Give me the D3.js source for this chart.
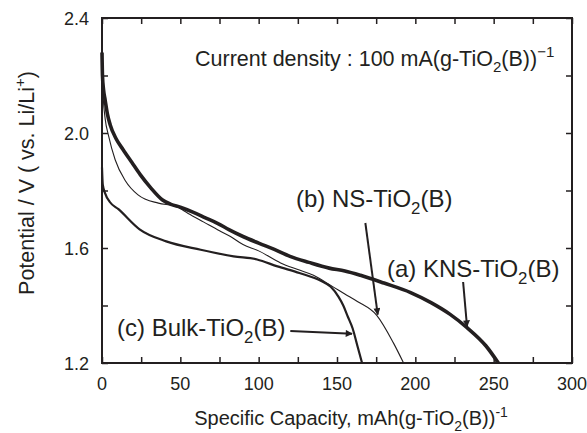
<!DOCTYPE html>
<html>
<head>
<meta charset="utf-8">
<script src="https://cdn.jsdelivr.net/npm/d3@7"></script>
<style>
  html, body { margin: 0; padding: 0; background: #fff; }
  svg text { font-family: "Liberation Sans", Arial, Helvetica, sans-serif; fill: #231f20; }
</style>
</head>
<body>
<svg id="chart" width="587" height="433"></svg>
<script>
// ---- data ----
const capA = [0, 0.3, 1, 2, 3.5, 5.2, 9, 13.5, 19, 24.4, 31, 38.4, 44, 50, 58, 66, 74, 81, 90, 100, 110, 120, 132, 145, 155, 165, 180, 197, 210, 222, 233, 245, 253];
const vA   = [2.28, 2.2, 2.15, 2.115, 2.065, 2.029, 1.98, 1.942, 1.898, 1.855, 1.81, 1.768, 1.752, 1.742, 1.725, 1.705, 1.685, 1.664, 1.64, 1.617, 1.595, 1.571, 1.55, 1.53, 1.52, 1.505, 1.478, 1.445, 1.41, 1.37, 1.323, 1.26, 1.2];

const capB = [0, 0.8, 2, 4.2, 8.4, 14.8, 23, 36, 47, 55, 65, 75, 82, 90, 100, 114, 125, 135, 146, 155, 163, 175.5, 186, 192.5];
const vB   = [2.22, 2.12, 2.05, 1.99, 1.907, 1.835, 1.785, 1.756, 1.745, 1.72, 1.69, 1.66, 1.64, 1.612, 1.59, 1.548, 1.525, 1.505, 1.47, 1.44, 1.414, 1.365, 1.27, 1.2];

const capC = [0, 0.5, 2, 5, 10.5, 24, 41, 63, 84, 99, 112, 126, 140, 146, 151, 154, 157, 160, 163, 166];
const vC   = [1.88, 1.82, 1.79, 1.76, 1.735, 1.665, 1.623, 1.594, 1.571, 1.56, 1.536, 1.513, 1.485, 1.465, 1.43, 1.40, 1.36, 1.32, 1.26, 1.2];

const xTickLabels = [0, 50, 100, 150, 200, 250, 300];
const yTickLabels = [1.2, 1.6, 2.0, 2.4];
const xMinorTicks = d3.range(0, 301, 25);
const yMinorTicks = [1.2, 1.4, 1.6, 1.8, 2.0, 2.2, 2.4];

// ---- layout ----
const L = 102, R = 572, T = 18, B = 363;
const ink = "#231f20";
const svg = d3.select("#chart");

const x = d3.scaleLinear().domain([0, 300]).range([L, R]);
const y = d3.scaleLinear().domain([1.2, 2.4]).range([B, T]);

// ticks (inward, all four sides)
const tk = 6;
const axB = d3.axisBottom(x).tickValues(xMinorTicks).tickSize(-tk).tickFormat("");
const axT = d3.axisTop(x).tickValues(xMinorTicks).tickSize(-tk).tickFormat("");
const axL = d3.axisLeft(y).tickValues(yMinorTicks).tickSize(-tk).tickFormat("");
const axR = d3.axisRight(y).tickValues(yMinorTicks).tickSize(-tk).tickFormat("");
[[axB, `translate(0,${B})`], [axT, `translate(0,${T})`], [axL, `translate(${L},0)`], [axR, `translate(${R},0)`]].forEach(([ax, tr]) => {
  const g = svg.append("g").attr("transform", tr).call(ax);
  g.select(".domain").remove();
  g.selectAll(".tick line").attr("stroke", ink).attr("stroke-width", 1.5);
});

// frame
svg.append("rect").attr("x", L).attr("y", T).attr("width", R - L).attr("height", B - T)
  .attr("fill", "none").attr("stroke", ink).attr("stroke-width", 2);

// tick labels
svg.append("g").selectAll("text").data(xTickLabels).join("text")
  .attr("x", d => x(d)).attr("y", B + 27).attr("text-anchor", "middle")
  .attr("font-size", 18).text(d => d);
svg.append("g").selectAll("text").data(yTickLabels).join("text")
  .attr("x", L - 13).attr("y", d => y(d) + 6.5).attr("text-anchor", "end")
  .attr("font-size", 18).text(d => d.toFixed(1));

// curves
const line = d3.line().x(d => x(d[0])).y(d => y(d[1])).curve(d3.curveMonotoneX);
const series = [
  { cap: capA, v: vA, w: 3.6 },
  { cap: capB, v: vB, w: 1.1 },
  { cap: capC, v: vC, w: 2.2 }
];
series.forEach(s => {
  svg.append("path").datum(s.cap.map((c, i) => [c, s.v[i]]))
    .attr("d", line).attr("fill", "none").attr("stroke", ink)
    .attr("stroke-width", s.w).attr("stroke-linejoin", "round");
});

// text helper with sub/superscripts
function rich(parent, xx, yy, parts, size, anchor) {
  const t = parent.append("text").attr("x", xx).attr("y", yy)
    .attr("font-size", size).attr("text-anchor", anchor || "start");
  let shift = 0;
  parts.forEach(p => {
    const ts = t.append("tspan").text(p.t);
    let target = 0, fs = size;
    if (p.sub) { target = size * 0.3; fs = size * 0.7; }
    if (p.sup) { target = -size * 0.4; fs = size * 0.7; }
    ts.attr("dy", target - shift).attr("font-size", fs);
    shift = target;
  });
  return t;
}

// arrows
svg.append("defs").append("marker").attr("id", "ah")
  .attr("viewBox", "0 0 10 10").attr("refX", 9).attr("refY", 5)
  .attr("markerWidth", 11).attr("markerHeight", 7).attr("markerUnits", "userSpaceOnUse")
  .attr("orient", "auto")
  .append("path").attr("d", "M0,0 L10,5 L0,10 Z").attr("fill", ink);

function arrow(x1, y1, x2, y2) {
  svg.append("line").attr("x1", x1).attr("y1", y1).attr("x2", x2).attr("y2", y2)
    .attr("stroke", ink).attr("stroke-width", 2).attr("marker-end", "url(#ah)");
}
arrow(x(168.1), 223, x(176), y(1.365) - 1);
arrow(x(230.5), 282, x(233), y(1.323) - 1);
arrow(x(120.2), 331, x(159.6), y(1.302));

// labels
rich(svg, 195, 66, [{ t: "Current density : 100 mA(g-TiO" }, { t: "2", sub: 1 }, { t: "(B))" }, { t: "\u22121", sup: 1 }], 21.5);
rich(svg, 296, 207, [{ t: "(b) NS-TiO" }, { t: "2", sub: 1 }, { t: "(B)" }], 24);
rich(svg, 387, 277, [{ t: "(a) KNS-TiO" }, { t: "2", sub: 1 }, { t: "(B)" }], 24);
rich(svg, 117, 336, [{ t: "(c) Bulk-TiO" }, { t: "2", sub: 1 }, { t: "(B)" }], 24);

// axis titles
rich(svg, 351, 424.5, [{ t: "Specific Capacity, mAh(g-TiO" }, { t: "2", sub: 1 }, { t: "(B))" }, { t: "-1", sup: 1 }], 20, "middle");
const yt = svg.append("g").attr("transform", `translate(34,183) rotate(-90)`);
rich(yt, 0, 0, [{ t: "Potential / V ( vs. Li/Li" }, { t: "+", sup: 1 }, { t: ")" }], 21.5, "middle");
</script>
</body>
</html>
